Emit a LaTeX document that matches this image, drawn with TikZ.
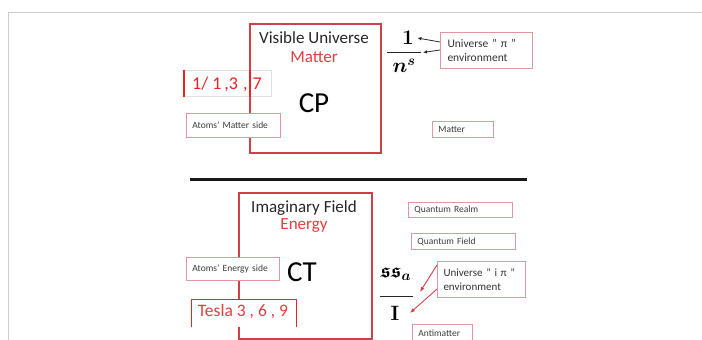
\documentclass[tikz,border=0pt]{standalone}
\usepackage[no-math]{fontspec}
\usepackage{amsmath,amssymb,bm}
\setmainfont{Carlito}
\usetikzlibrary{arrows.meta}
\definecolor{boxred}{RGB}{208,64,76}
\definecolor{txtred}{RGB}{226,62,62}
\definecolor{brightred}{RGB}{232,36,36}
\definecolor{tagpink}{RGB}{226,150,160}
\definecolor{txtgray}{RGB}{60,60,60}
\definecolor{framegray}{RGB}{205,205,205}
\definecolor{arrred}{RGB}{218,60,72}
\begin{document}
\begin{tikzpicture}[x=1pt,y=-1pt,
  bigbox/.style={draw=boxred, line width=2.2pt, anchor=north west, inner sep=0pt},
  tagbox/.style={draw=tagpink, line width=0.9pt, fill=white, anchor=north west,
    inner xsep=6pt, inner ysep=0pt, align=left, text=txtgray,
    font=\fontsize{9.5}{11}\selectfont},
  envbox/.style={draw=tagpink, line width=1pt, fill=white, anchor=north west,
    inner xsep=7pt, inner ysep=0pt, align=left, text=black!80,
    font=\fontsize{11.5}{13.5}\selectfont},
  title/.style={font=\fontsize{17}{19}\selectfont, text=black!85},
  redtitle/.style={font=\fontsize{17}{19}\selectfont, text=txtred},
  bigletters/.style={font=\fontsize{29}{32}\selectfont, text=black},
  blackarrow/.style={-{Latex[length=4pt,width=3.5pt]}, line width=0.8pt, black!85},
  redarrow/.style={-{Latex[length=5pt,width=4pt]}, line width=0.9pt, arrred},
  redbar/.style={brightred, line width=2pt}
]
\useasboundingbox (0,0) rectangle (702,340);
% faint frame
\draw[framegray, line width=1pt] (8,340) -- (8,12.5) -- (702,12.5);

% ---------- top half ----------
\node[bigbox, minimum width=131pt, minimum height=129pt] (vis) at (249,23) {};
\node[title] (vt) at (314,38) {Visible Universe};
\node[redtitle] (mt) at (314,57) {Matter};
\node[bigletters] (cp) at (314,103) {CP};

\node[draw=black!12, line width=0.6pt, fill=white, anchor=north west,
      minimum width=87pt, minimum height=26pt, inner sep=0pt] (seq) at (184,70) {};
\node[font=\fontsize{18}{20}\selectfont, text=brightred, anchor=west, inner sep=0pt] (seqt) at (192,84)
  {1/\hspace{4pt}1\hspace{3pt},3\hspace{5pt},\hspace{5pt}7};
\draw[redbar] (seq.north west) -- (seq.south west);
\draw[redbar] ([xshift=66pt]seq.north west) -- ([xshift=66pt]seq.south west);

\node[tagbox, text width=82pt, minimum height=24pt] (ams) at (186,113) {Atoms' Matter side};
\node[tagbox, text width=49pt, minimum height=16pt] (mat) at (432,121) {Matter};

% fraction 1/n^s
\node[font=\fontsize{22}{24}\selectfont] (num1) at (408,38) {$\mathbf{1}$};
\node[font=\fontsize{22}{24}\selectfont] (den1) at (404,66) {$\bm{n^{s}}$};
\coordinate (bar1l) at (387,52.5);
\coordinate (bar1r) at (421,52.5);
\draw[line width=1.8pt, black!85] (bar1l) -- (bar1r);

\node[envbox, text width=78pt, minimum height=36pt] (env1) at (440,32)
  {Universe " π "\\environment};
\draw[blackarrow] ([yshift=-10pt]env1.north west) -- (num1.east);
\draw[blackarrow] ([yshift=-18pt]env1.north west) -- ([xshift=2pt]bar1r);

% divider
\coordinate (divl) at (190,179);
\coordinate (divr) at (527,179);
\draw[line width=3pt, black!90] (divl) -- (divr);

% ---------- bottom half ----------
\node[bigbox, minimum width=133pt, minimum height=146pt] (img) at (238,192) {};
\node[title] (it) at (304,208) {Imaginary Field};
\node[redtitle] (et) at (304,226) {Energy};
\node[bigletters] (ct) at (302,272) {CT};

\node[tagbox, text width=81pt, minimum height=23pt] (aes) at (186,257) {Atoms' Energy side};

\node[fill=white, anchor=north west, minimum width=105pt, minimum height=28pt, inner sep=0pt] (tes) at (191,299) {};
\draw[brightred, line width=1pt] (tes.south west) -- (tes.north west) -- (tes.north east) -- (tes.south east);
\node[font=\fontsize{17.5}{19}\selectfont, text=txtred] (test) at (243,312) {Tesla 3 , 6 , 9};

\node[tagbox, text width=92pt, minimum height=15pt] (qr) at (408,202) {Quantum Realm};
\node[tagbox, text width=92pt, minimum height=16pt] (qf) at (411,233) {Quantum Field};
\node[tagbox, text width=48pt, minimum height=18pt] (anti) at (412,324) {Antimatter};

% fraction ss_a / I
\node[font=\fontsize{20}{22}\selectfont] (num2) at (396,274) {$\bm{\mathfrak{ss}_{a}}$};
\node[font=\fontsize{20}{22}\selectfont] (den2) at (395,313) {$\mathbf{I}$};
\coordinate (bar2l) at (380,296.5);
\coordinate (bar2r) at (413,296.5);
\draw[line width=1.6pt, black!85] (bar2l) -- (bar2r);

\node[envbox, text width=76pt, minimum height=36pt, inner xsep=6pt,
      font=\fontsize{11}{13.5}\selectfont] (env2) at (437,261)
  {Universe " i π "\\environment};
\coordinate (tip1) at (420,292);
\coordinate (tip2) at (410,313);
\draw[redarrow] ([yshift=-4pt]env2.north west) -- (tip1);
\draw[redarrow] ([yshift=-28pt]env2.north west) -- (tip2);
\end{tikzpicture}
\end{document}
